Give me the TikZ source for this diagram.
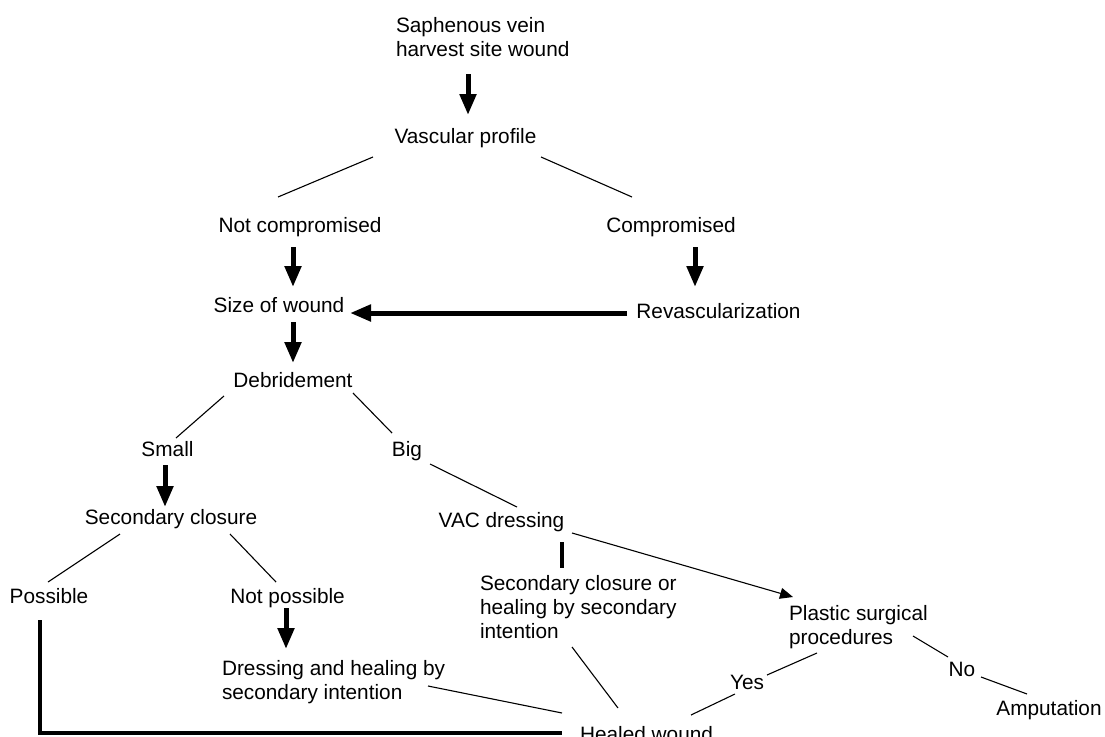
\documentclass[tikz,border=0pt]{standalone}
\usepackage{fontspec}
\setmainfont{Liberation Sans}
\usetikzlibrary{arrows.meta,calc}

\begin{document}
\begin{tikzpicture}[
    x=1pt, y=-1pt,
    txt/.style={inner sep=0pt, outer sep=0pt, anchor=base,
                font=\fontsize{20.8}{24}\selectfont},
    block/.style={txt, anchor=north west, align=left},
    link/.style={line width=1.1pt},
    flow/.style={line width=5pt, -{Triangle[length=21pt,width=16pt]}},
    bar/.style={line width=3.5pt},
    ptr/.style={link, -{Triangle[length=13pt,width=11pt]}},
]
\useasboundingbox (0,0) rectangle (1105,736);

% Upper part
\node[block] (sap) at (396,17) {Saphenous vein\\harvest site wound};
\node[txt] (vasc) at (465.5,143) {Vascular profile};
\node[txt] (notc) at (300,232) {Not compromised};
\node[txt] (comp) at (671,232) {Compromised};
\node[txt] (size) at (279,312) {Size of wound};
\node[txt] (revasc) at (718.5,318) {Revascularization};
\node[txt] (debr) at (293,387) {Debridement};

% Small / big wound
\node[txt] (small) at (167.5,456) {Small};
\node[txt] (big) at (407,456) {Big};
\node[txt] (secc) at (171,524) {Secondary closure};
\node[txt] (vac) at (501.5,527) {VAC dressing};
\node[block] (seco) at (480,575) {Secondary closure or\\healing by secondary\\intention};
\node[block] (plast) at (789,605) {Plastic surgical\\procedures};
\node[txt] (poss) at (49,603) {Possible};
\node[txt] (notp) at (287.6,603) {Not possible};
\node[block] (dress) at (222,660) {Dressing and healing by\\secondary intention};

% Outcome
\node[txt] (yes) at (747,689) {Yes};
\node[txt] (no) at (962,676) {No};
\node[txt] (amp) at (1049,715) {Amputation};
\node[txt] (healed) at (646.5,741) {Healed wound};

% Connectors
\draw[flow] ($(sap.north west)+(72,57)$) -- ($(vasc.base)+(2.5,-28)$);
\draw[link] ($(vasc.base)+(-92.5,14)$) -- ($(notc.base)+(-22,-35)$);
\draw[link] ($(vasc.base)+(75.5,14)$) -- ($(comp.base)+(-39,-35)$);
\draw[flow] ($(notc.base)+(-7,15)$) -- ($(size.base)+(14,-25)$);
\draw[flow] ($(comp.base)+(24,15)$) -- ($(revasc.base)+(-23.5,-31)$);
\draw[flow] ($(revasc.base)+(-91.5,-5)$) -- ($(size.base)+(71,1)$);
\draw[flow] ($(size.base)+(14,10)$) -- ($(debr.base)+(0,-24)$);
\draw[link] ($(debr.base)+(-69,9)$) -- ($(small.base)+(8.5,-18)$);
\draw[link] ($(debr.base)+(60,6)$) -- ($(big.base)+(-15,-23)$);
\draw[flow] ($(small.base)+(-2.5,9)$) -- ($(secc.base)+(-6,-17)$);
\draw[link] ($(big.base)+(23,8)$) -- ($(vac.base)+(15.5,-20)$);
\draw[bar] ($(vac.base)+(60.5,15)$) -- ($(seco.north west)+(82,-7)$);
\draw[ptr] ($(vac.base)+(70.5,6)$) -- ($(plast.north west)+(4,-8)$);
\draw[link] ($(secc.base)+(-51,10)$) -- ($(poss.base)+(-1,-21)$);
\draw[link] ($(secc.base)+(59,10)$) -- ($(notp.base)+(-11.6,-21)$);
\draw[flow] ($(notp.base)+(-1.6,5)$) -- ($(dress.north west)+(64,-11)$);
\draw[link] ($(plast.north west)+(124,31)$) -- ($(no.base)+(-14,-19)$);
\draw[link] ($(no.base)+(19,1)$) -- ($(amp.base)+(-22,-21)$);
\draw[link] ($(plast.north west)+(28,48)$) -- ($(yes.base)+(20,-14)$);
\draw[link] ($(yes.base)+(-12,5)$) -- ($(healed.base)+(44.5,-26)$);
\draw[link] ($(seco.north west)+(92,72)$) -- ($(healed.base)+(-28.5,-33)$);
\draw[link] ($(dress.north west)+(206,26)$) -- ($(healed.base)+(-84.5,-28)$);
\draw[bar] ($(poss.base)+(-9,17)$) |- ($(healed.base)+(-84.5,-8)$);
\end{tikzpicture}
\end{document}
